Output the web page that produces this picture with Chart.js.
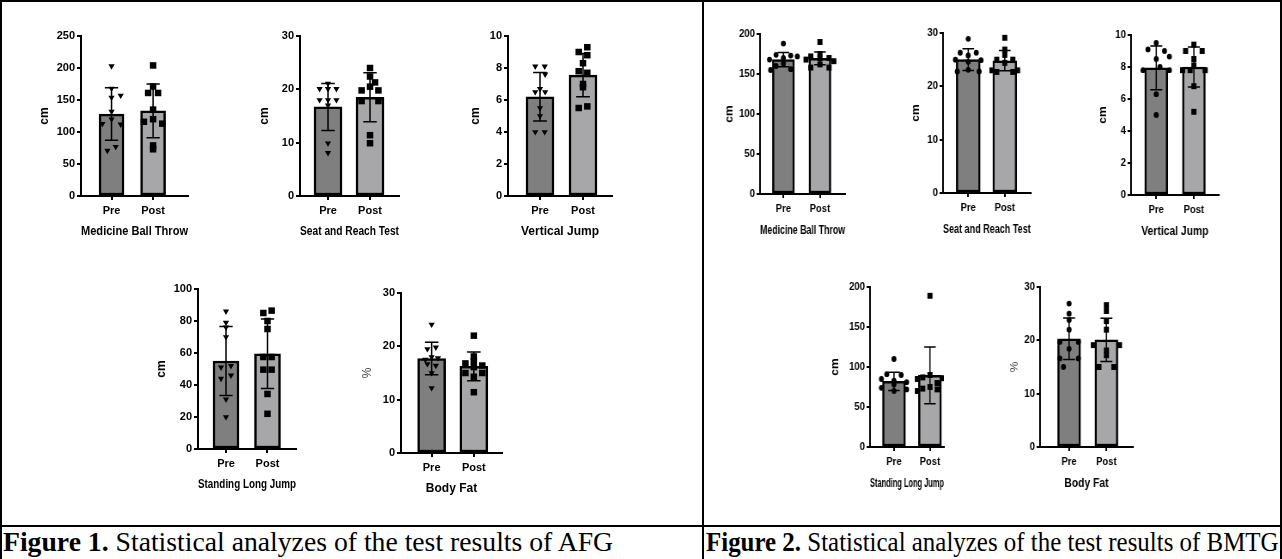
<!DOCTYPE html>
<html><head><meta charset="utf-8">
<script src="https://cdn.jsdelivr.net/npm/chart.js@4.4.1/dist/chart.umd.min.js"></script>
<style>
html,body{margin:0;padding:0;background:#fff;}
#page{position:relative;width:1282px;height:559px;overflow:hidden;background:#fff;}
.ln{position:absolute;background:#000;}
.cap{position:absolute;font-family:'Liberation Serif','Times New Roman',serif;font-size:27.7px;line-height:28px;white-space:nowrap;color:#000;transform-origin:0 0;}
</style></head><body>
<div id="page">
  <div class="ln" style="left:0;top:0;width:1282px;height:2px"></div>
  <div class="ln" style="left:0;top:0;width:2px;height:559px"></div>
  <div class="ln" style="left:1280px;top:0;width:2px;height:559px"></div>
  <div class="ln" style="left:702px;top:0;width:2px;height:559px"></div>
  <div class="ln" style="left:0;top:525px;width:1282px;height:2px"></div>
  <div class="cap" style="left:3px;top:528px"><b>Figure 1.</b> Statistical analyzes of the test results of AFG</div>
  <div class="cap" style="left:706px;top:528px;transform:scaleX(0.9)"><b>Figure 2.</b> Statistical analyzes of the test results of BMTG</div>
</div>
<script>
const categories = ['Pre', 'Post'];

// Figure 1 (AFG)
const afgMbtPre = [203, 168, 157, 154, 132, 120, 113, 112, 71, 77];
const afgMbtPreJit = [0, 0, 0.22, 0, 0, 0, -0.22, 0.22, -0.1, 0.1];
const afgMbtPost = [204, 171, 161, 161, 135, 120, 116, 113, 79, 73];
const afgMbtPostJit = [0, 0, -0.12, 0.12, 0, 0, -0.22, 0.22, 0, 0];
const afgMbtMean = [128, 133];
const afgMbtSd = [41, 42];
const afgMbtTicks = [0, 50, 100, 150, 200, 250];

const afgSrtPre = [21.1, 20.1, 20.1, 20.1, 18.0, 18.0, 18.0, 17.0, 9.9, 8.1];
const afgSrtPreJit = [0, -0.2, 0, 0.2, -0.2, 0, 0.2, 0, 0, 0];
const afgSrtPost = [24.0, 22.4, 21.3, 19.8, 19.8, 20.5, 17.8, 17.8, 11.4, 9.9];
const afgSrtPostJit = [0, 0, 0.12, -0.2, 0.2, 0, -0.2, 0.2, 0, 0];
const afgSrtMean = [16.7, 18.5];
const afgSrtSd = [4.4, 4.6];
const afgSrtTicks = [0, 10, 20, 30];

const afgVjPre = [8.1, 8.1, 7.6, 6.5, 6.5, 6.7, 5.5, 5.0, 4.0, 4.0];
const afgVjPreJit = [-0.11, 0.11, 0.12, -0.11, 0.12, 0, 0, 0, -0.11, 0.11];
const afgVjPost = [9.3, 9.0, 8.8, 8.3, 7.8, 7.7, 7.0, 6.8, 5.5, 5.6];
const afgVjPostJit = [0.1, -0.1, 0.1, 0, -0.1, 0.1, 0, 0, -0.1, 0.1];
const afgVjMean = [6.2, 7.55];
const afgVjSd = [1.52, 1.35];
const afgVjTicks = [0, 2, 4, 6, 8, 10];

const afgSljPre = [86, 79, 76, 70, 51, 52, 44, 46, 31, 20];
const afgSljPreJit = [0, 0, 0, 0, -0.12, 0.12, -0.12, 0.12, 0, 0];
const afgSljPost = [85, 86.5, 80, 75, 57.5, 57.5, 49.6, 49.6, 34.4, 22];
const afgSljPostJit = [-0.1, 0.1, 0, 0, -0.1, 0.1, -0.1, 0.1, 0, 0];
const afgSljMean = [55, 59.5];
const afgSljSd = [21.6, 21.7];
const afgSljTicks = [0, 20, 40, 60, 80, 100];

const afgBfPre = [24.1, 19.8, 19.5, 18.0, 17.8, 17.5, 16.7, 16.4, 15.0, 12.2];
const afgBfPreJit = [0, 0.1, -0.1, 0, 0.15, -0.15, -0.1, 0.1, 0, 0];
const afgBfPost = [22.0, 18.1, 17.2, 16.8, 16.4, 16.1, 15.0, 15.0, 14.3, 11.4];
const afgBfPostJit = [0, 0, 0, -0.2, 0.2, 0, -0.2, 0.2, 0, 0];
const afgBfMean = [17.7, 16.25];
const afgBfSd = [3.05, 2.7];
const afgBfTicks = [0, 10, 20, 30];

// Figure 2 (BMTG)
const bmtgMbtPre = [188, 174, 173, 172, 170, 168, 163, 160, 156, 155];
const bmtgMbtPreJit = [0, -0.2, 0.2, 0.38, 0, -0.38, 0, -0.2, 0.2, -0.35];
const bmtgMbtPost = [190, 175, 172, 170, 170, 168, 166, 162, 158, 158];
const bmtgMbtPostJit = [0, 0, -0.25, 0.25, 0, -0.38, 0.38, 0, -0.25, 0.25];
const bmtgMbtMean = [168, 169.5];
const bmtgMbtSd = [9, 8];
const bmtgMbtTicks = [0, 50, 100, 150, 200];

const bmtgSrtPre = [28.9, 26.3, 26.3, 25.8, 25.0, 24.9, 24.6, 23.1, 22.8, 22.8];
const bmtgSrtPreJit = [0, -0.22, 0.22, 0, -0.35, 0.35, 0, 0, -0.3, 0.3];
const bmtgSrtPost = [29.1, 26.9, 25.9, 25.0, 25.0, 24.4, 23.0, 23.0, 22.7, 22.7];
const bmtgSrtPostJit = [0, 0, 0, -0.22, 0.22, 0, -0.35, 0.35, -0.22, 0.22];
const bmtgSrtMean = [25.0, 24.8];
const bmtgSrtSd = [2.05, 1.9];
const bmtgSrtTicks = [0, 10, 20, 30];

const bmtgVjPre = [9.5, 9.1, 9.0, 8.65, 8.5, 8.0, 7.8, 7.8, 6.3, 5.0];
const bmtgVjPreJit = [0, -0.22, 0.22, 0.35, 0, 0.1, -0.35, 0.35, 0, 0];
const bmtgVjPost = [9.4, 9.0, 9.0, 8.5, 8.1, 7.8, 7.8, 7.8, 6.8, 5.2];
const bmtgVjPostJit = [0, -0.22, 0.22, 0, 0, -0.3, 0.3, -0.1, 0, 0];
const bmtgVjMean = [7.95, 8.0];
const bmtgVjSd = [1.37, 1.25];
const bmtgVjTicks = [0, 2, 4, 6, 8, 10];

const bmtgSljPre = [110, 91, 90, 85, 83, 81, 78, 74, 72, 70];
const bmtgSljPreJit = [0, -0.2, 0.2, -0.35, 0, 0.35, 0, -0.35, 0.35, 0];
const bmtgSljPost = [189, 90, 87, 86, 85, 80, 75, 73, 72, 70];
const bmtgSljPostJit = [0, 0, -0.2, 0.35, -0.35, 0.2, 0, -0.2, 0.2, -0.35];
const bmtgSljMean = [82, 89.5];
const bmtgSljSd = [11.5, 35.5];
const bmtgSljTicks = [0, 50, 100, 150, 200];

const bmtgBfPre = [26.9, 25.0, 23.8, 22.0, 19.7, 19.7, 18.4, 16.6, 16.6, 15.0];
const bmtgBfPreJit = [0, 0, 0, 0, -0.25, 0.25, 0, -0.25, 0.25, -0.15];
const bmtgBfPost = [26.6, 25.5, 23.6, 22.0, 19.1, 19.1, 18.1, 17.2, 15.0, 15.0];
const bmtgBfPostJit = [0, 0, 0, 0, -0.35, 0.35, 0, 0, -0.2, 0.2];
const bmtgBfMean = [20.3, 20.1];
const bmtgBfSd = [3.9, 4.05];
const bmtgBfTicks = [0, 10, 20, 30];

// layout of the panels (pixel frame of each plot + axis padding in data units)
const panels = [
  {fig:1, title:'Medicine Ball Throw', unit:'cm', pre:afgMbtPre, preJit:afgMbtPreJit, post:afgMbtPost, postJit:afgMbtPostJit, mean:afgMbtMean, sd:afgMbtSd, ticks:afgMbtTicks, axisX:81, plotW:107, yTop:36, y0:196, xMin:-0.735, xMax:1.84, bar:25, gap:36},
  {fig:1, title:'Seat and Reach Test', unit:'cm', pre:afgSrtPre, preJit:afgSrtPreJit, post:afgSrtPost, postJit:afgSrtPostJit, mean:afgSrtMean, sd:afgSrtSd, ticks:afgSrtTicks, axisX:300, plotW:99, yTop:36, y0:196, xMin:-0.667, xMax:1.69, bar:28, gap:35},
  {fig:1, title:'Vertical Jump', unit:'cm', pre:afgVjPre, preJit:afgVjPreJit, post:afgVjPost, postJit:afgVjPostJit, mean:afgVjMean, sd:afgVjSd, ticks:afgVjTicks, axisX:508, plotW:104, yTop:36, y0:196, xMin:-0.744, xMax:1.674, bar:28, gap:32},
  {fig:1, title:'Standing Long Jump', unit:'cm', pre:afgSljPre, preJit:afgSljPreJit, post:afgSljPost, postJit:afgSljPostJit, mean:afgSljMean, sd:afgSljSd, ticks:afgSljTicks, axisX:198, plotW:98, yTop:289, y0:449, xMin:-0.675, xMax:1.687, bar:26, gap:36},
  {fig:1, title:'Body Fat', unit:'%', pre:afgBfPre, preJit:afgBfPreJit, post:afgBfPost, postJit:afgBfPostJit, mean:afgBfMean, sd:afgBfSd, ticks:afgBfTicks, axisX:401, plotW:101, yTop:293, y0:453, xMin:-0.726, xMax:1.667, bar:28, gap:33},
  {fig:2, title:'Medicine Ball Throw', unit:'cm', pre:bmtgMbtPre, preJit:bmtgMbtPreJit, post:bmtgMbtPost, postJit:bmtgMbtPostJit, mean:bmtgMbtMean, sd:bmtgMbtSd, ticks:bmtgMbtTicks, axisX:760, plotW:85, yTop:34, y0:194, xMin:-0.64, xMax:1.69, bar:22, gap:30},
  {fig:2, title:'Seat and Reach Test', unit:'cm', pre:bmtgSrtPre, preJit:bmtgSrtPreJit, post:bmtgSrtPost, postJit:bmtgSrtPostJit, mean:bmtgSrtMean, sd:bmtgSrtSd, ticks:bmtgSrtTicks, axisX:943, plotW:88, yTop:33, y0:193, xMin:-0.69, xMax:1.71, bar:24, gap:26.6},
  {fig:2, title:'Vertical Jump', unit:'cm', pre:bmtgVjPre, preJit:bmtgVjPreJit, post:bmtgVjPost, postJit:bmtgVjPostJit, mean:bmtgVjMean, sd:bmtgVjSd, ticks:bmtgVjTicks, axisX:1131, plotW:88, yTop:35, y0:195, xMin:-0.67, xMax:1.66, bar:23, gap:28},
  {fig:2, title:'Standing Long Jump', unit:'cm', pre:bmtgSljPre, preJit:bmtgSljPreJit, post:bmtgSljPost, postJit:bmtgSljPostJit, mean:bmtgSljMean, sd:bmtgSljSd, ticks:bmtgSljTicks, axisX:870, plotW:74, yTop:287, y0:447, xMin:-0.667, xMax:1.39, bar:23, gap:35},
  {fig:2, title:'Body Fat', unit:'%', pre:bmtgBfPre, preJit:bmtgBfPreJit, post:bmtgBfPost, postJit:bmtgBfPostJit, mean:bmtgBfMean, sd:bmtgBfSd, ticks:bmtgBfTicks, axisX:1040, plotW:93, yTop:287, y0:447, xMin:-0.78, xMax:1.71, bar:23, gap:25}
];

const WY = 50, HX = 50, PT = 12, PR = 8;
const SX2 = 0.86;
const FONT = "'Liberation Sans', Arial, sans-serif";
const PRE_FILL = '#7f7f7f', POST_FILL = '#a7a7aa';

const errorBarPlugin = {
  id: 'errorBars',
  afterDatasetDraw(chart, args, opts) {
    if (args.index !== 0) return;
    const {ctx} = chart; const x = chart.scales.x, y = chart.scales.y;
    ctx.save();
    ctx.strokeStyle = '#000'; ctx.lineWidth = opts.width;
    opts.mean.forEach((m, i) => {
      const px = x.getPixelForValue(i);
      const top = y.getPixelForValue(m + opts.sd[i]);
      const bot = y.getPixelForValue(m - opts.sd[i]);
      const hw = Math.abs(x.getPixelForValue(i + opts.cap) - px);
      ctx.beginPath();
      ctx.moveTo(px, top); ctx.lineTo(px, bot);
      ctx.moveTo(px - hw, top); ctx.lineTo(px + hw, top);
      ctx.moveTo(px - hw, bot); ctx.lineTo(px + hw, bot);
      ctx.stroke();
    });
    ctx.restore();
  }
};

const page = document.getElementById('page');
panels.forEach(c => {
  const sx = c.fig === 1 ? 1 : SX2;
  const w = Math.round(WY + c.plotW / sx + PR);
  const h = PT + (c.y0 - c.yTop) + HX;
  const cv = document.createElement('canvas');
  cv.width = w; cv.height = h;
  cv.style.cssText = `position:absolute;left:${c.axisX - WY * sx}px;top:${c.yTop - PT}px;width:${w}px;height:${h}px;transform:scaleX(${sx});transform-origin:0 0;`;
  page.appendChild(cv);
  const gridOpt = {display:true, offset:false, drawOnChartArea:false, drawTicks:true, tickLength:4, color:'#000', lineWidth:2};
  const borderOpt = {display:true, color:'#000', width:2};
  const tickFont = {family:FONT, size:11, weight:'bold'};
  const isPct = c.unit === '%';
  new Chart(cv, {
    type: 'bar',
    data: {
      datasets: [
        {type:'bar', order:3, data: categories.map((k, i) => ({x:i, y:c.mean[i]})),
         backgroundColor:[PRE_FILL, POST_FILL], borderColor:'#000', borderWidth:2.5, borderSkipped:false,
         barThickness: c.bar / sx},
        {type:'scatter', order:1, data: c.pre.map((v, i) => ({x:0 + c.preJit[i], y:v})),
         pointStyle: c.fig === 1 ? 'triangle' : 'circle', pointRotation: c.fig === 1 ? 180 : 0,
         pointRadius: c.fig === 1 ? 3.6 : 2.9, pointBackgroundColor:'#000', pointBorderColor:'#000', pointBorderWidth:0},
        {type:'scatter', order:1, data: c.post.map((v, i) => ({x:1 + c.postJit[i], y:v})),
         pointStyle:'rect', pointRadius: c.fig === 1 ? 4.6 : 4.2, pointBackgroundColor:'#000', pointBorderColor:'#000', pointBorderWidth:0}
      ]
    },
    options: {
      responsive:false, animation:false, events:[],
      layout:{padding:{top:PT, right:PR, bottom:0, left:0}},
      plugins:{legend:{display:false}, tooltip:{enabled:false},
               errorBars:{mean:c.mean, sd:c.sd, cap:0.16, width:1.5}},
      scales:{
        x:{type:'linear', position:'bottom', min:c.xMin, max:c.xMax, offset:false,
           grid:gridOpt, border:borderOpt,
           ticks:{font:tickFont, color:'#000', padding:4, autoSkip:false, maxRotation:0, minRotation:0,
                  callback:(v, i) => categories[i]},
           afterBuildTicks: s => { s.ticks = categories.map((k, i) => ({value:i})); },
           afterFit: s => { s.height = HX; },
           title:{display:true, text:c.title, color:'#000', font:{family:FONT, size:12, weight:'bold'},
                  padding:{top:0, bottom: c.fig === 1 ? 7.1 : 6.1}}},
        y:{type:'linear', min:c.ticks[0], max:c.ticks[c.ticks.length - 1],
           grid:gridOpt, border:borderOpt,
           ticks:{font:tickFont, color:'#000', padding:2, stepSize:c.ticks[1] - c.ticks[0]},
           afterBuildTicks: s => { s.ticks = c.ticks.map(v => ({value:v})); },
           afterFit: s => { s.width = WY; },
           title:{display:true, text:c.unit, color: isPct ? '#444' : '#000',
                  font:{family:FONT, size:12, weight: isPct ? 'normal' : 'bold'},
                  padding:{top: Math.max(0, WY - c.gap / sx - 7.2), bottom:0}}}
      }
    },
    plugins:[errorBarPlugin]
  });
});
</script>
</body></html>
